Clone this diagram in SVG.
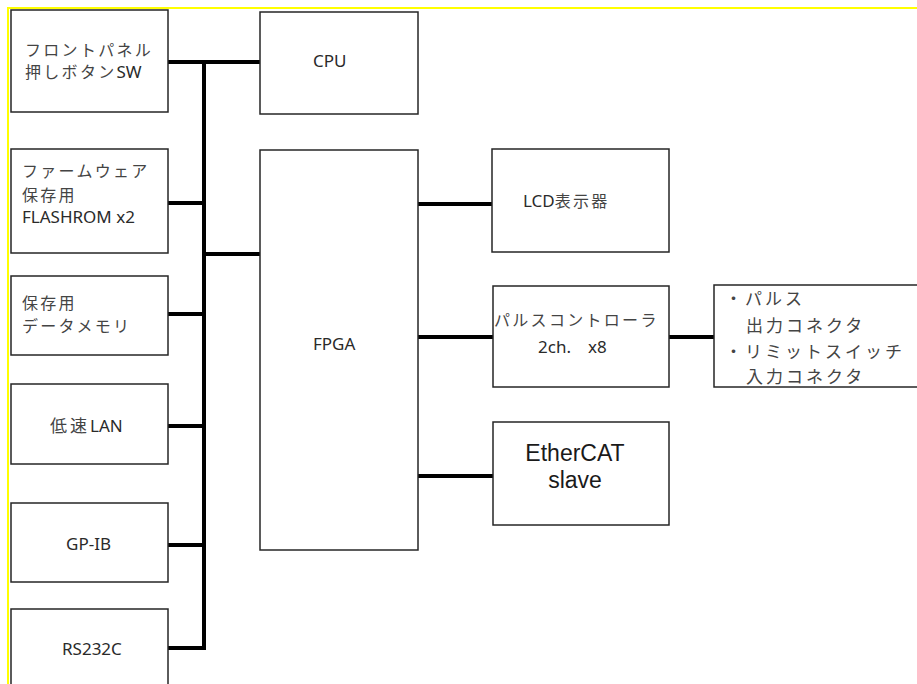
<svg xmlns="http://www.w3.org/2000/svg" width="917" height="684" viewBox="0 0 917 684">
<style>
.bg{fill:#fff}
.frame{fill:none;stroke:#ffff00;stroke-width:2}
.box{fill:#fff;stroke:#262626;stroke-width:1.5}
.t{font-family:"Noto Sans","Noto Sans CJK JP",sans-serif;font-size:17px;fill:#2a2a2a}
.j{font-family:"Noto Sans CJK JP","Noto Sans",sans-serif;font-size:16px;fill:#444;letter-spacing:2.3px}
.jl{font-family:"Noto Sans CJK JP","Noto Sans",sans-serif;font-size:17px;fill:#444;letter-spacing:3px}
.a{font-family:"Liberation Sans",Arial,sans-serif;font-size:23px;fill:#1a1a1a;text-anchor:middle}
.c{fill:none;stroke:#000;stroke-width:4}
</style>
<rect class="bg" x="0" y="0" width="917" height="684"/>
<rect class="frame" x="8" y="8" width="950" height="720"/>
<g id="connectors">
<path class="c" d="M204,62 V650"/>
<path class="c" d="M168,62 H260"/>
<path class="c" d="M168,203 H204"/>
<path class="c" d="M204,254 H260"/>
<path class="c" d="M168,314 H204"/>
<path class="c" d="M168,426 H204"/>
<path class="c" d="M168,545 H204"/>
<path class="c" d="M168,648 H206"/>
<path class="c" d="M418,204 H492"/>
<path class="c" d="M418,337 H493"/>
<path class="c" d="M669,337 H714"/>
<path class="c" d="M418,476 H493"/>
</g>
<g id="frontpanel">
<rect class="box" x="11" y="10" width="157" height="102"/>
<text class="j" x="25" y="56">フロントパネル</text>
<text x="25" y="78"><tspan class="j">押しボタン</tspan><tspan class="t" font-size="16">SW</tspan></text>
</g>
<g id="cpu">
<rect class="box" x="260" y="12" width="158" height="102"/>
<text class="t" x="313" y="67">CPU</text>
</g>
<g id="flashrom">
<rect class="box" x="11" y="149" width="157" height="104"/>
<text class="j" x="22" y="177">ファームウェア</text>
<text class="j" x="22" y="201">保存用</text>
<text class="t" x="22" y="223" font-size="15.6">FLASHROM x2</text>
</g>
<g id="fpga">
<rect class="box" x="260" y="150" width="158" height="400"/>
<text class="t" x="313" y="350">FPGA</text>
</g>
<g id="datamemory">
<rect class="box" x="11" y="276" width="157" height="79"/>
<text class="j" x="22" y="309">保存用</text>
<text class="j" x="22" y="332">データメモリ</text>
</g>
<g id="lan">
<rect class="box" x="11" y="384" width="157" height="80"/>
<text x="50" y="432"><tspan class="jl">低速</tspan><tspan class="t">LAN</tspan></text>
</g>
<g id="gpib">
<rect class="box" x="11" y="503" width="157" height="79"/>
<text class="t" x="66" y="550">GP-IB</text>
</g>
<g id="rs232c">
<rect class="box" x="11" y="609" width="157" height="100"/>
<text class="t" x="62" y="655">RS232C</text>
</g>
<g id="lcd">
<rect class="box" x="492" y="149" width="177" height="103"/>
<text x="523" y="207"><tspan class="t" font-size="18">LCD</tspan><tspan class="j" font-size="18" letter-spacing="1.3">表示器</tspan></text>
</g>
<g id="pulsecontroller">
<rect class="box" x="493" y="286" width="176" height="101"/>
<text class="j" x="494" y="326">パルスコントローラ</text>
<text class="t" x="538" y="353" font-size="16">2ch.　x8</text>
</g>
<g id="connectors-box">
<rect class="box" x="714" y="285" width="220" height="102"/>
<text class="jl" x="725" y="305">・パルス</text>
<text class="jl" x="746" y="332">出力コネクタ</text>
<text class="jl" x="725" y="358">・リミットスイッチ</text>
<text class="jl" x="746" y="383">入力コネクタ</text>
</g>
<g id="ethercat">
<rect class="box" x="493" y="422" width="176" height="103"/>
<text class="a" x="575" y="461">EtherCAT</text>
<text class="a" x="575" y="488">slave</text>
</g>
</svg>
